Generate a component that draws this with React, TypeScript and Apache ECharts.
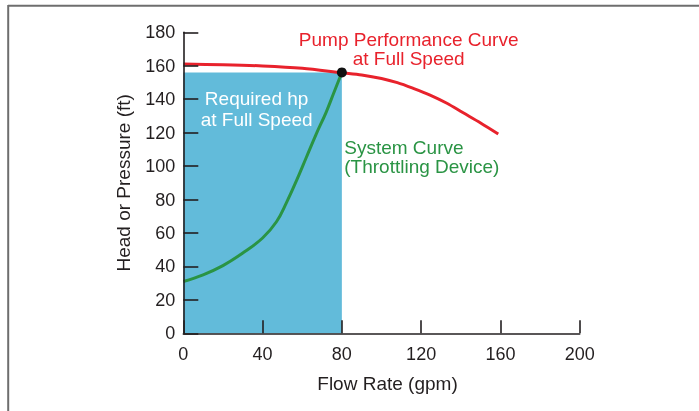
import React, { useEffect, useRef } from "react";
import * as echarts from "echarts";

const xTicks = [0, 40, 80, 120, 160, 200];
const yTicks = [0, 20, 40, 60, 80, 100, 120, 140, 160, 180];

const pumpFlow = [0, 20, 40, 60, 80, 90, 100, 108, 116, 124.5, 133, 141, 150, 158.9];
const pumpHead = [161, 160.6, 159.9, 158.5, 155.8, 154.5, 152.4, 149.9, 146.5, 142.5, 137.6, 132, 125.8, 119.2];

const systemFlow = [0, 10, 20, 30, 40, 47, 52, 57, 62, 67, 72, 76, 80];
const systemHead = [31, 35, 40.5, 48, 57, 66.7, 78, 91, 105, 119, 132, 144, 156];

const operatingPoint = [80, 156];
const requiredFlowRange = [0, 80];
const requiredHeadRange = [0, 156];

const pumpLabel = ["Pump Performance Curve", "at Full Speed"];
const pumpLabelAt = [113.7, 169.9];
const systemLabel = ["System Curve", "(Throttling Device)"];
const systemLabelAt = [81.2, 105.3];
const requiredLabel = ["Required hp", "at Full Speed"];
const requiredLabelAt = [37, 134];

const FONT = "'Liberation Sans', Arial, Helvetica, sans-serif";
const INK = "#231F20";
const RED = "#E8222C";
const GREEN = "#2A9444";
const BLUE = "#62BBDA";

export default function App() {
  const ref = useRef<HTMLDivElement>(null);
  useEffect(() => {
    if (!ref.current) return;
    const chart = echarts.init(ref.current, undefined, { renderer: "svg" });
    const pump = pumpFlow.map((x, i) => [x, pumpHead[i]]);
    const sys = systemFlow.map((x, i) => [x, systemHead[i]]);
    chart.setOption({
      animation: false,
      textStyle: { fontFamily: FONT },
      grid: { left: 183.3, right: 119.3, top: 32.3, bottom: 77.7 },
      xAxis: {
        type: "value",
        min: xTicks[0],
        max: xTicks[xTicks.length - 1],
        interval: 40,
        z: 5,
        name: "Flow Rate (gpm)",
        nameLocation: "middle",
        nameGap: 41,
        nameTextStyle: { fontSize: 19, color: INK, fontFamily: FONT, padding: [0, 0, 0, 12] },
        axisLine: { lineStyle: { color: INK, width: 1.6 } },
        axisTick: { inside: true, length: 13, lineStyle: { color: INK, width: 1.6 } },
        axisLabel: { fontSize: 18, color: INK, margin: 12, fontFamily: FONT },
        splitLine: { show: false },
      },
      yAxis: {
        type: "value",
        min: yTicks[0],
        max: yTicks[yTicks.length - 1],
        interval: 20,
        z: 5,
        name: "Head or Pressure (ft)",
        nameLocation: "middle",
        nameGap: 50,
        nameRotate: 90,
        nameTextStyle: { fontSize: 19, color: INK, fontFamily: FONT },
        axisLine: { show: true, lineStyle: { color: INK, width: 1.6 } },
        axisTick: { show: true, inside: true, length: 15, lineStyle: { color: INK, width: 1.6 } },
        axisLabel: { fontSize: 18, color: INK, margin: 8, fontFamily: FONT },
        splitLine: { show: false },
      },
      series: [
        {
          type: "line",
          data: [],
          silent: true,
          z: 1,
          markArea: {
            silent: true,
            itemStyle: { color: BLUE, opacity: 1 },
            data: [[
              { coord: [requiredFlowRange[0], requiredHeadRange[0]] },
              { coord: [requiredFlowRange[1], requiredHeadRange[1]] },
            ]],
          },
        },
        {
          type: "line",
          data: pump,
          smooth: 0.3,
          showSymbol: false,
          z: 3,
          lineStyle: { color: RED, width: 3 },
        },
        {
          type: "line",
          data: sys,
          smooth: 0.4,
          showSymbol: false,
          z: 3,
          lineStyle: { color: GREEN, width: 3 },
        },
        {
          type: "scatter",
          data: [operatingPoint],
          symbolSize: 10,
          z: 4,
          itemStyle: { color: "#111", opacity: 1 },
        },
      ],
    });
    const px = (p: number[]) => chart.convertToPixel({ gridIndex: 0 }, p) as number[];
    const pl = px(pumpLabelAt);
    const sl = px(systemLabelAt);
    const rl = px(requiredLabelAt);
    chart.setOption({
      graphic: [
        { type: "line", shape: { x1: 8, y1: 5.8, x2: 699, y2: 5.8 }, style: { stroke: "#6E6E6E", lineWidth: 2 } },
        { type: "line", shape: { x1: 8.2, y1: 5, x2: 8.2, y2: 411 }, style: { stroke: "#6E6E6E", lineWidth: 2 } },
        {
          type: "text", x: pl[0], y: pl[1], z: 10,
          style: { text: pumpLabel.join("\n"), fill: RED, font: `19px ${FONT}`, align: "center", verticalAlign: "middle", lineHeight: 18.5 },
        },
        {
          type: "text", x: sl[0], y: sl[1], z: 10,
          style: { text: systemLabel.join("\n"), fill: GREEN, font: `19px ${FONT}`, align: "left", verticalAlign: "middle", lineHeight: 18.7 },
        },
        {
          type: "text", x: rl[0], y: rl[1], z: 10,
          style: { text: requiredLabel.join("\n"), fill: "#FFFFFF", font: `19px ${FONT}`, align: "center", verticalAlign: "middle", lineHeight: 20.7 },
        },
      ],
    });
    return () => chart.dispose();
  }, []);
  return <div ref={ref} style={{ position: "fixed", left: 0, top: 0, width: 699, height: 411 }} />;
}
